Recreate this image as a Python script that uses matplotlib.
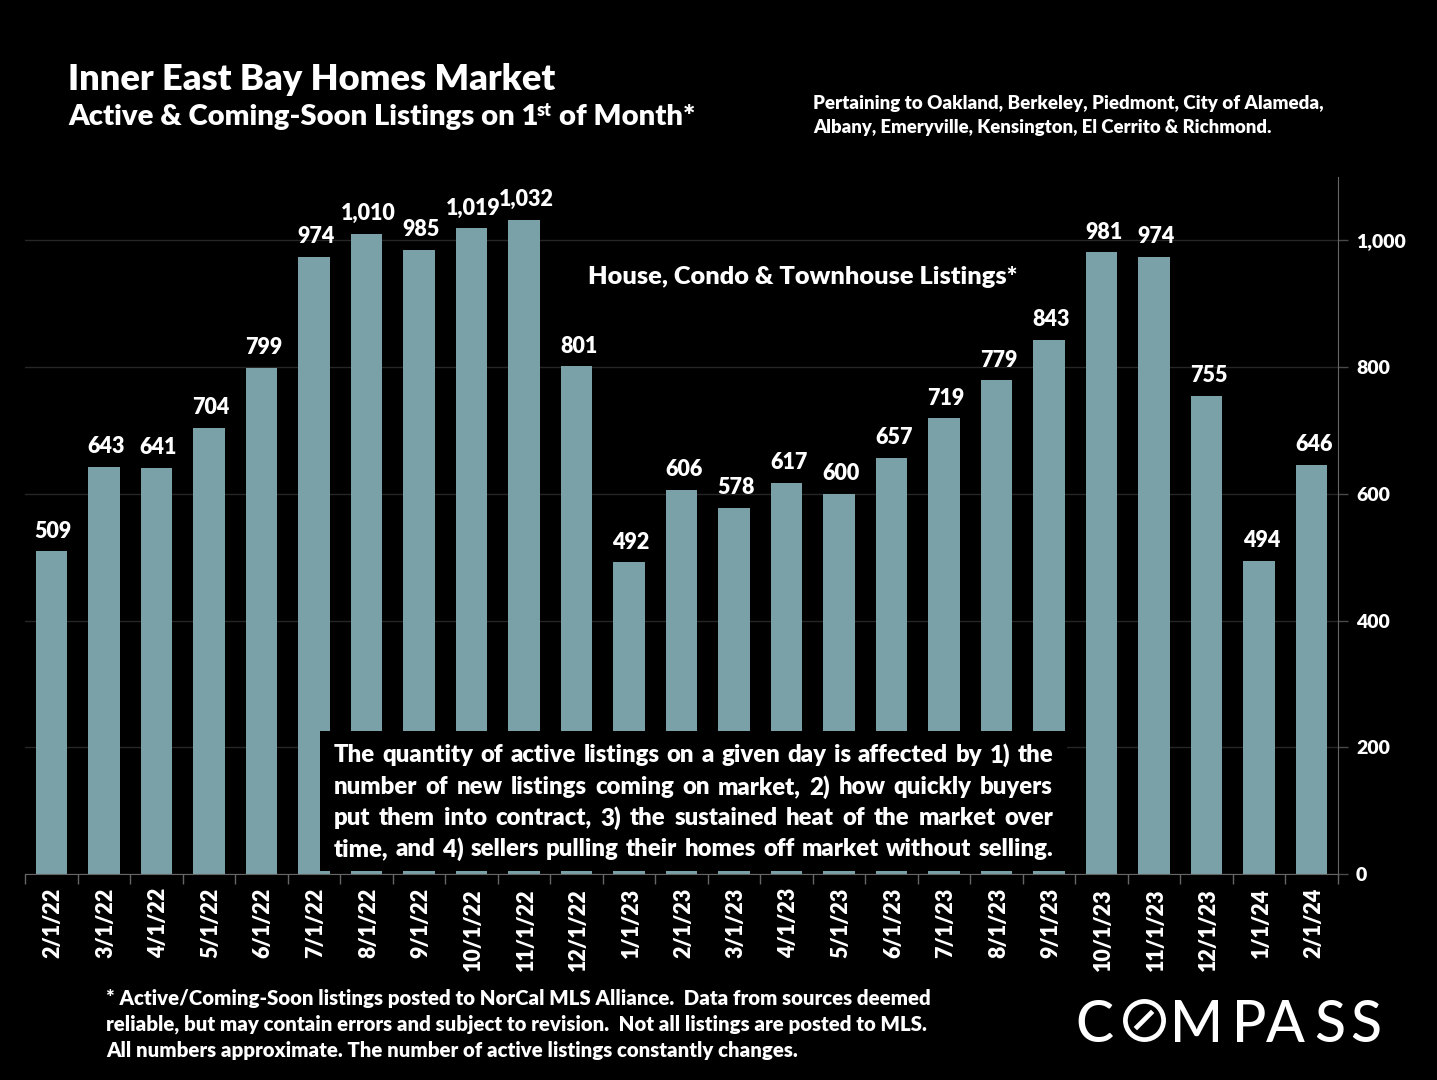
import matplotlib
matplotlib.use('Agg')
import matplotlib.pyplot as plt
from matplotlib.lines import Line2D
from matplotlib.patches import Rectangle
from matplotlib.transforms import ScaledTranslation

plt.rcParams['font.family'] = ['Lato', 'DejaVu Sans']
plt.rcParams['font.weight'] = 'heavy'

W, H = 1437, 1080

months = ['2/1/22', '3/1/22', '4/1/22', '5/1/22', '6/1/22', '7/1/22', '8/1/22', '9/1/22', '10/1/22',
          '11/1/22', '12/1/22', '1/1/23', '2/1/23', '3/1/23', '4/1/23', '5/1/23', '6/1/23', '7/1/23',
          '8/1/23', '9/1/23', '10/1/23', '11/1/23', '12/1/23', '1/1/24', '2/1/24']
listings = [509, 643, 641, 704, 799, 974, 1010, 985, 1019, 1032, 801, 492, 606, 578, 617, 600, 657,
            719, 779, 843, 981, 974, 755, 494, 646]
y_ticks = [0, 200, 400, 600, 800, 1000]

box_lines = ['The quantity of active listings on a given day is affected by 1) the',
             'number of new listings coming on market, 2) how quickly buyers',
             'put them into contract, 3) the sustained heat of the market over',
             'time, and 4) sellers pulling their homes off market without selling.']
foot_lines = ['* Active/Coming-Soon listings posted to NorCal MLS Alliance.  Data from sources deemed',
              'reliable, but may contain errors and subject to revision.  Not all listings are posted to MLS.',
              'All numbers approximate. The number of active listings constantly changes.']


def px(x, y):
    return x / W, 1 - y / H


def put(x, y, s, size, **kw):
    kw.setdefault('color', 'white')
    kw.setdefault('va', 'center')
    return fig.text(*px(x, y), s, fontsize=size, **kw)


fig = plt.figure(figsize=(W / 100, H / 100), dpi=100, facecolor='black')
ax = fig.add_axes([25 / W, 1 - 874 / H, (1338 - 25) / W, (874 - 177) / H], facecolor='black')

# bars
x = list(range(len(listings)))
bars = ax.bar(x, listings, width=0.6, color='#7AA1A8', zorder=2)
labels = ax.bar_label(bars, labels=[f'{v:,}' for v in listings], padding=7, color='white', fontsize=15.5,
                      zorder=3)
for t in labels:
    t.xyann = (1.5, t.xyann[1])

ax.set_xlim(-0.5, 24.5)
ax.set_ylim(0, 1100)
ax.yaxis.tick_right()
ax.set_yticks(y_ticks, [f'{v:,}' for v in y_ticks])
ax.grid(axis='y', color='#262626', lw=1, zorder=0)
ax.set_axisbelow(True)

# ticks sit on the category edges, labels in between
ax.set_xticks([i - 0.5 for i in range(len(listings) + 1)], [''] * (len(listings) + 1))
ax.set_xticks(x, months, minor=True, rotation=90)
ax.tick_params(axis='x', which='major', length=7, color='#666666', width=1)
ax.tick_params(axis='x', which='minor', length=0, colors='white', labelsize=15.5, pad=10)
ax.tick_params(axis='y', length=7, color='#4a4a4a', width=1, labelcolor='white', labelsize=14, pad=6)
for t in ax.get_xticklabels(minor=True):
    t.set_transform(t.get_transform() + ScaledTranslation(2 / 100, 0, fig.dpi_scale_trans))
for side in ['top', 'left']:
    ax.spines[side].set_visible(False)
ax.spines['right'].set_color('#666666')
ax.spines['bottom'].set_color('#666666')

# headings
put(68, 79, 'Inner East Bay Homes Market', 26.1)
put(68, 117, 'Active & Coming-Soon Listings on 1', 21.1)
put(537, 110, 'st', 13)
put(559, 117, 'of Month*', 21.1)
put(813, 104, 'Pertaining to Oakland, Berkeley, Piedmont, City of Alameda,', 13.5)
put(813, 128, 'Albany, Emeryville, Kensington, El Cerrito & Richmond.', 13.3)
put(588, 277, 'House, Condo & Townhouse Listings*', 18.3)

# note box covers the bars, lines are justified word by word
fig.add_artist(Rectangle(px(320, 871), 747 / W, 140 / H, transform=fig.transFigure, fc='black', ec='none', zorder=5))
renderer = fig.canvas.get_renderer()
for line, ly in zip(box_lines, [755, 787, 818, 849]):
    words = [put(334, ly, w, 17.2, zorder=6) for w in line.split()]
    widths = [t.get_window_extent(renderer).width for t in words]
    gap = (1053 - 334 - sum(widths)) / (len(words) - 1)
    cur = 334
    for t, wd in zip(words, widths):
        t.set_position(px(cur, ly))
        cur += wd + gap

for line, ly in zip(foot_lines, [998, 1024, 1050]):
    put(106, ly, line, 14.7)

# logo
logo_letters = ['C', 'M', 'P', 'A', 'S', 'S']
logo_x = [1075, 1170, 1232, 1266, 1314, 1350]
for ch, lx in zip(logo_letters, logo_x):
    put(lx, 1025, ch, 41, fontweight='medium')
fig.add_artist(Line2D([1144 / W], [1 - 1020 / H], marker='o', ms=27.5, mfc='none', mec='white', mew=3.4,
                      transform=fig.transFigure))
fig.add_artist(Line2D([1137 / W, 1151 / W], [1 - 1027 / H, 1 - 1013 / H], color='white', lw=3.4,
                      transform=fig.transFigure))

fig.savefig('out.png', dpi=100, facecolor='black')
